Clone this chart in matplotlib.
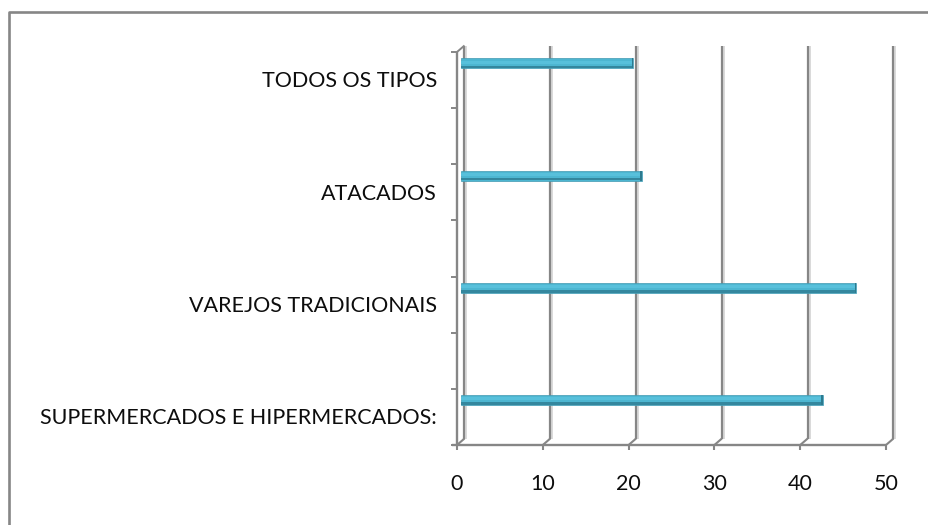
import numpy as np
import matplotlib
matplotlib.use("Agg")
import matplotlib.pyplot as plt
from matplotlib.lines import Line2D
from matplotlib.transforms import offset_copy

# retail channel shares, listed bottom to top
categories = ["SUPERMERCADOS E HIPERMERCADOS:", "VAREJOS TRADICIONAIS",
              "ATACADOS", "TODOS OS TIPOS"]
values = [42.2, 46.1, 21.1, 20.1]
xticks = [0, 10, 20, 30, 40, 50]

W, H = 929, 525
GRID = "#868686"
SHADE = "#d9d9d9"
plt.rcParams["font.family"] = ["Lato", "DejaVu Sans"]

fig = plt.figure(figsize=(W / 100, H / 100), dpi=100)
fig.patch.set_facecolor("white")

# outer chart frame (only top and left edges fall inside the image)
top = (H - 11.5) / H
left = 8.7 / W
fig.add_artist(Line2D([left, left, 1.05], [-0.05, top, top],
                      transform=fig.transFigure, color=GRID, lw=1.9))

# plot area: front floor edge at y=445 px, x from 457 to 886 px
ax = fig.add_axes([457 / W, (H - 445) / H, (886 - 457) / W, (445 - 52) / H])
ax.set_xlim(0, 50)
ax.set_ylim(0, 7)
ax.axis("off")

px_x = 429 / 50.0   # pixels per x unit
px_y = 393 / 7.0    # pixels per y unit
ddx = 7.5 / px_x    # depth of the 3-D box
ddy = 6.5 / px_y

kw = dict(clip_on=False, solid_capstyle="butt")

# back wall gridlines with their light shadow, plus floor diagonals
for v in xticks:
    ax.plot([v + ddx + 2 / px_x] * 2, [ddy, 7 + ddy], color=SHADE, lw=1.4,
            zorder=1, **kw)
    ax.plot([v + ddx] * 2, [ddy, 7 + ddy], color=GRID, lw=1.6, zorder=2, **kw)
    ax.plot([v, v + ddx], [0, ddy], color=GRID, lw=1.5, zorder=2, **kw)
    ax.plot([v, v], [0, -5 / px_y], color=GRID, lw=1.5, zorder=3, **kw)

# front category axis and floor edge
ax.plot([0, 0], [0, 7], color=GRID, lw=1.7, zorder=3, **kw)
ax.plot([0, ddx], [7, 7 + ddy], color=GRID, lw=1.4, zorder=3, **kw)
ax.plot([-5 / px_x, 50], [0, 0], color=GRID, lw=1.7, zorder=3, **kw)
for t in range(8):
    ax.plot([-6 / px_x, 0], [t, t], color=GRID, lw=1.4, zorder=3, **kw)

# bars sit half way into the box depth
pos = np.arange(len(categories)) * 2 + 0.8
hx, hy = ddx / 2, ddy / 2
bh = 10 / px_y
ax.barh(pos, values, left=hx, height=bh, color="#4DB6D1",
        edgecolor="#4199b1", linewidth=0.5, zorder=5, clip_on=False)
ax.barh(pos - bh * 0.36, values, left=hx, height=bh * 0.26, color="#34879e",
        linewidth=0, zorder=6, clip_on=False)
ax.barh(pos + bh * 0.12, values, left=hx, height=bh * 0.3, color="#58c0db",
        linewidth=0, zorder=6, clip_on=False)
for y, v in zip(pos, values):
    ax.barh(y, 1.5 / px_x, left=hx + v - 1.5 / px_x, height=bh,
            color="#2d7a8f", linewidth=0, zorder=7, clip_on=False)

# category labels to the left of the axis
lab_tr = offset_copy(ax.transData, fig=fig, x=-20, y=0, units="dots")
for y, name in zip(pos, categories):
    ax.text(0, y - 18 / px_y, name, transform=lab_tr, ha="right",
            va="center", fontsize=15.5, color="#0d0d0d")

# value axis labels below the floor
num_tr = offset_copy(ax.transData, fig=fig, x=0, y=-39, units="dots")
for v in xticks:
    ax.text(v, 0, str(v), transform=num_tr, ha="center", va="center",
            fontsize=15.5, color="#0d0d0d")

fig.savefig("out.png", dpi=100, facecolor="white")
